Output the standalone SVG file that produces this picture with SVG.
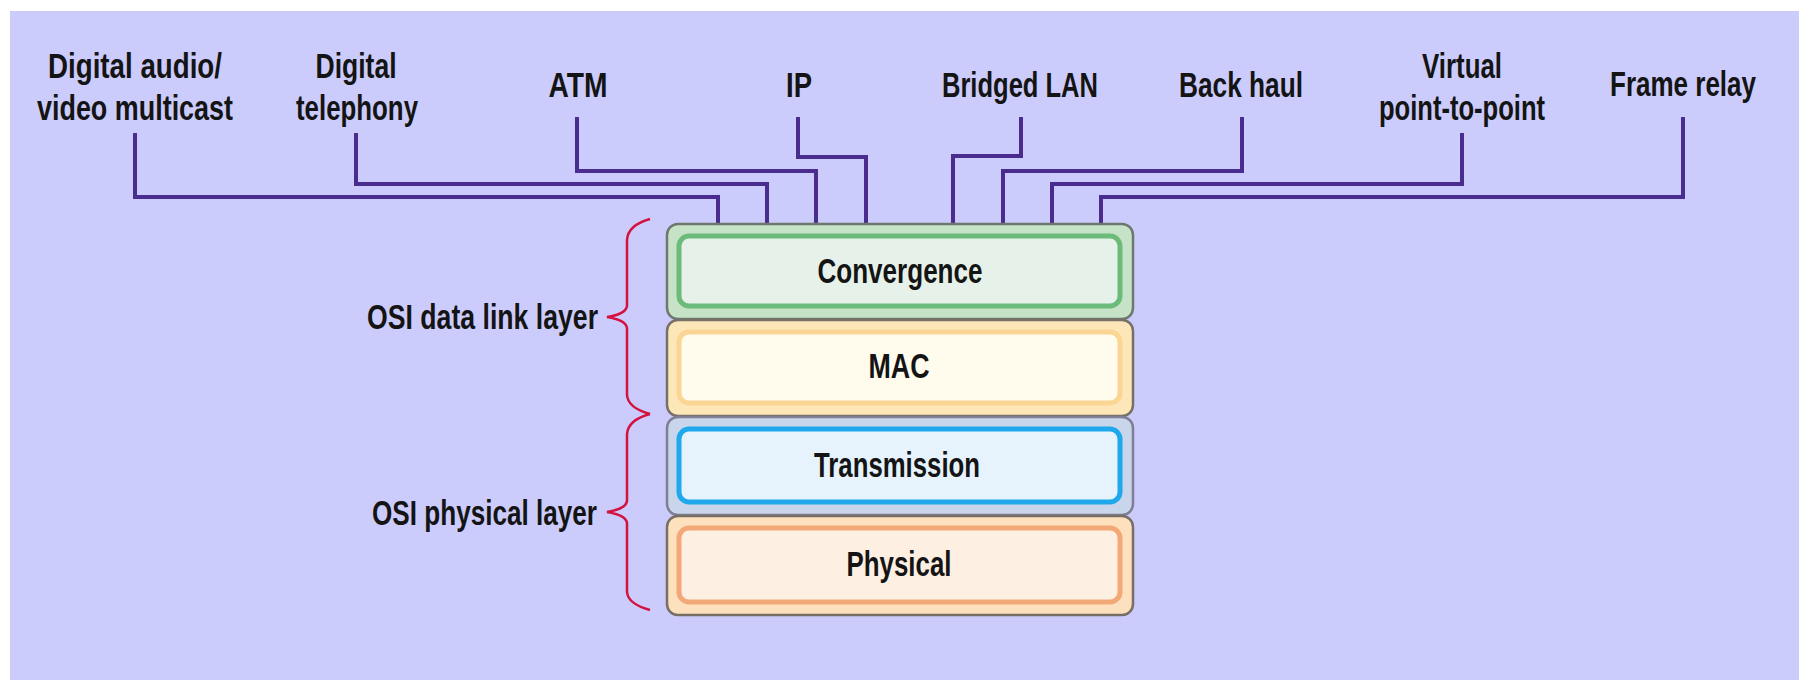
<svg xmlns="http://www.w3.org/2000/svg" width="1799" height="680" viewBox="0 0 1799 680">
<style>
.lbl{font-family:"Liberation Sans Narrow","Liberation Sans",Arial,sans-serif;font-weight:bold;font-size:35px;fill:#141414;text-anchor:middle}
.side{font-family:"Liberation Sans Narrow","Liberation Sans",Arial,sans-serif;font-weight:bold;font-size:35px;fill:#141414;text-anchor:start}
.conn{fill:none;stroke:#4a2c8e;stroke-width:4;stroke-linejoin:miter}
.brace{fill:none;stroke:#d3123f;stroke-width:2.5;stroke-linejoin:miter}
.outer{stroke-width:2.5}
.inner{stroke-width:5}
</style>
<rect x="0" y="0" width="1799" height="680" fill="#ffffff"/>
<rect x="10" y="11" width="1789" height="669" fill="#ccccfc"/>

<g id="connectors">
<path class="conn" d="M135 133 V197 H718 V224"/>
<path class="conn" d="M356 133 V184 H767 V224"/>
<path class="conn" d="M577 117 V171 H816 V224"/>
<path class="conn" d="M798 117 V157 H866 V224"/>
<path class="conn" d="M1021 117 V156 H953 V224"/>
<path class="conn" d="M1242 117 V171 H1003 V224"/>
<path class="conn" d="M1462 133 V184 H1052 V224"/>
<path class="conn" d="M1683 117 V197 H1101 V224"/>
</g>

<g id="label-digital-av">
<text class="lbl" x="135" y="78" textLength="174" lengthAdjust="spacingAndGlyphs">Digital audio/</text>
<text class="lbl" x="135" y="120" textLength="196" lengthAdjust="spacingAndGlyphs">video multicast</text>
</g>
<g id="label-digital-telephony">
<text class="lbl" x="356" y="78" textLength="81" lengthAdjust="spacingAndGlyphs">Digital</text>
<text class="lbl" x="357" y="120" textLength="122" lengthAdjust="spacingAndGlyphs">telephony</text>
</g>
<g id="label-atm"><text class="lbl" x="578" y="97" textLength="59" lengthAdjust="spacingAndGlyphs">ATM</text></g>
<g id="label-ip"><text class="lbl" x="799" y="97" textLength="26" lengthAdjust="spacingAndGlyphs">IP</text></g>
<g id="label-bridged-lan"><text class="lbl" x="1020" y="97" textLength="156" lengthAdjust="spacingAndGlyphs">Bridged LAN</text></g>
<g id="label-back-haul"><text class="lbl" x="1241" y="97" textLength="124" lengthAdjust="spacingAndGlyphs">Back haul</text></g>
<g id="label-virtual-p2p">
<text class="lbl" x="1462" y="78" textLength="80" lengthAdjust="spacingAndGlyphs">Virtual</text>
<text class="lbl" x="1462" y="120" textLength="166" lengthAdjust="spacingAndGlyphs">point-to-point</text>
</g>
<g id="label-frame-relay"><text class="lbl" x="1683" y="96" textLength="146" lengthAdjust="spacingAndGlyphs">Frame relay</text></g>

<g id="convergence">
<rect class="outer" x="667" y="224" width="466" height="95" rx="11" fill="#c7e3c7" stroke="#6f786f"/>
<rect class="inner" x="679" y="236" width="441" height="70" rx="10" fill="#e6f1ea" stroke="#6cbb7b"/>
<text class="lbl" x="900" y="283" textLength="165" lengthAdjust="spacingAndGlyphs">Convergence</text>
</g>
<g id="mac">
<rect class="outer" x="667" y="320" width="466" height="96" rx="11" fill="#fde7b9" stroke="#777066"/>
<rect class="inner" x="679" y="332" width="441" height="71" rx="10" fill="#fffcee" stroke="#fbd594"/>
<text class="lbl" x="899" y="378" textLength="61" lengthAdjust="spacingAndGlyphs">MAC</text>
</g>
<g id="transmission">
<rect class="outer" x="667" y="417" width="466" height="98" rx="11" fill="#c9d5ea" stroke="#7e7e94"/>
<rect class="inner" x="679" y="429" width="441" height="73" rx="10" fill="#e6f3fc" stroke="#1fa8ec"/>
<text class="lbl" x="897" y="477" textLength="166" lengthAdjust="spacingAndGlyphs">Transmission</text>
</g>
<g id="physical">
<rect class="outer" x="667" y="516" width="466" height="99" rx="11" fill="#fde0bd" stroke="#776e66"/>
<rect class="inner" x="679" y="528" width="441" height="74" rx="10" fill="#fdefe2" stroke="#f3a977"/>
<text class="lbl" x="899" y="576" textLength="105" lengthAdjust="spacingAndGlyphs">Physical</text>
</g>

<g id="osi-data-link">
<path class="brace" d="M650 219 Q628 225 627 240 L627 306 Q626 314 607 317 Q626 320 627 328 L627 395 Q628 408 650 414"/>
<text class="side" x="367" y="329" textLength="231" lengthAdjust="spacingAndGlyphs">OSI data link layer</text>
</g>
<g id="osi-physical">
<path class="brace" d="M650 414 Q628 420 627 434 L627 501 Q626 509 607 512 Q626 515 627 523 L627 592 Q628 604 650 610"/>
<text class="side" x="372" y="525" textLength="225" lengthAdjust="spacingAndGlyphs">OSI physical layer</text>
</g>
</svg>
